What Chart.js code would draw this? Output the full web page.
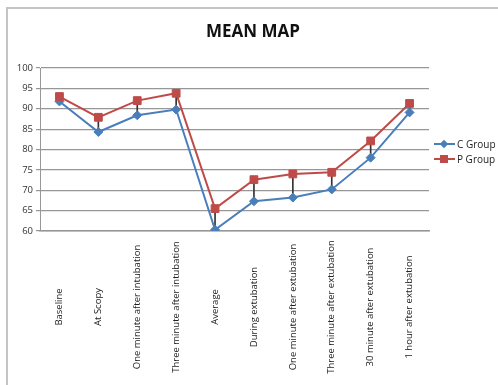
<!DOCTYPE html>
<html>
<head>
<meta charset="utf-8">
<script src="https://cdn.jsdelivr.net/npm/chart.js@4"></script>
<style>
  html, body { margin: 0; padding: 0; background: #fff; }
  #wrap { position: relative; width: 498px; height: 385px; overflow: hidden; }
  #frame { position: absolute; left: 6px; top: 7px; width: 600px; height: 500px;
           border-left: 2px solid #c4c4c4; border-top: 2px solid #c4c4c4; }
  #title { position: absolute; left: 0; width: 506px; top: 19px; text-align: center;
           font: bold 17px "Open Sans", sans-serif; color: #111; }
  #legend { position: absolute; left: 434px; top: 136px; font: 10px "Open Sans", sans-serif; color: #222; }
  .item { display: flex; align-items: center; height: 15px; }
  .icon { position: relative; width: 21px; height: 10px; margin-right: 2px; }
  .icon .ln { position: absolute; left: 0; right: 0; top: 4px; height: 2px; }
  .icon .mk { position: absolute; }
  canvas { position: absolute; left: 0; top: 0; }
</style>
</head>
<body>
<div id="wrap">
  <div id="frame"></div>
  <canvas id="chart" width="498" height="385"></canvas>
  <div id="title">MEAN MAP</div>
  <div id="legend">
    <div class="item"><div class="icon"><div class="ln" style="background:#4a7ebb"></div><div class="mk" style="left:7px;top:2px;width:6px;height:6px;background:#4a7ebb;transform:rotate(45deg)"></div></div>C Group</div>
    <div class="item"><div class="icon"><div class="ln" style="background:#be4b48"></div><div class="mk" style="left:6px;top:1px;width:8px;height:8px;background:#be4b48"></div></div>P Group</div>
  </div>
</div>
<script>
const LABELS = [
  "Baseline",
  "At Scopy",
  "One minute after intubation",
  "Three minute after intubation",
  "Average",
  "During extubation",
  "One minute after extubation",
  "Three minute after extubation",
  "30 minute after extubation",
  "1 hour after extubation",
];
const C_GROUP = [91.8, 84.3, 88.4, 89.8, 60.3, 67.3, 68.2, 70.2, 78.0, 89.1];
const P_GROUP = [93.0, 87.9, 92.0, 93.8, 65.5, 72.6, 74.0, 74.4, 82.1, 91.3];

const BLUE = "#4a7ebb";
const RED = "#be4b48";
const GRID = "#979797";

// category labels drawn rotated and centred in the band under the axis
const centredLabels = {
  id: "centredLabels",
  afterDraw(chart) {
    const { ctx, scales } = chart;
    const x = scales.x;
    const yc = 307;
    ctx.save();
    ctx.font = '9.5px "Open Sans", sans-serif';
    ctx.fillStyle = "#222";
    ctx.textAlign = "center";
    ctx.textBaseline = "middle";
    LABELS.forEach((lab, i) => {
      ctx.save();
      ctx.translate(x.getPixelForValue(i), yc);
      ctx.rotate(-Math.PI / 2);
      ctx.fillText(lab, 0, 0);
      ctx.restore();
    });
    ctx.restore();
  },
};

new Chart(document.getElementById("chart").getContext("2d"), {
  data: {
    labels: LABELS,
    datasets: [
      {
        type: "line",
        label: "C Group",
        data: C_GROUP,
        borderColor: BLUE,
        backgroundColor: BLUE,
        borderWidth: 2,
        pointStyle: "rectRot",
        pointRadius: 4.5,
        pointBorderWidth: 1,
        tension: 0,
        order: 2,
      },
      {
        type: "line",
        label: "P Group",
        data: P_GROUP,
        borderColor: RED,
        backgroundColor: RED,
        borderWidth: 2,
        pointStyle: "rect",
        pointRadius: 5.5,
        pointBorderWidth: 1,
        tension: 0,
        order: 1,
      },
      {
        type: "bar",
        label: "high-low",
        data: C_GROUP.map((c, i) => [c, P_GROUP[i]]),
        backgroundColor: "#333",
        barThickness: 1,
        order: 3,
      },
    ],
  },
  options: {
    responsive: false,
    animation: false,
    layout: { padding: { top: 68, right: 69, left: 0, bottom: 0 } },
    scales: {
      x: {
        offset: true,
        grid: { display: false },
        border: { display: true, color: GRID, width: 1.5 },
        ticks: { display: false },
        afterFit: (s) => { s.height = 154; },
      },
      y: {
        min: 60,
        max: 100,
        grid: { color: GRID, tickLength: 4, lineWidth: 1.2 },
        border: { color: GRID },
        ticks: {
          stepSize: 5,
          padding: 3,
          color: "#333",
          font: { family: '"Open Sans", sans-serif', size: 9.5 },
        },
        afterFit: (s) => { s.width = 40; },
      },
    },
    plugins: {
      legend: { display: false },
      title: { display: false },
      tooltip: { enabled: false },
    },
  },
  plugins: [centredLabels],
});
</script>
</body>
</html>
